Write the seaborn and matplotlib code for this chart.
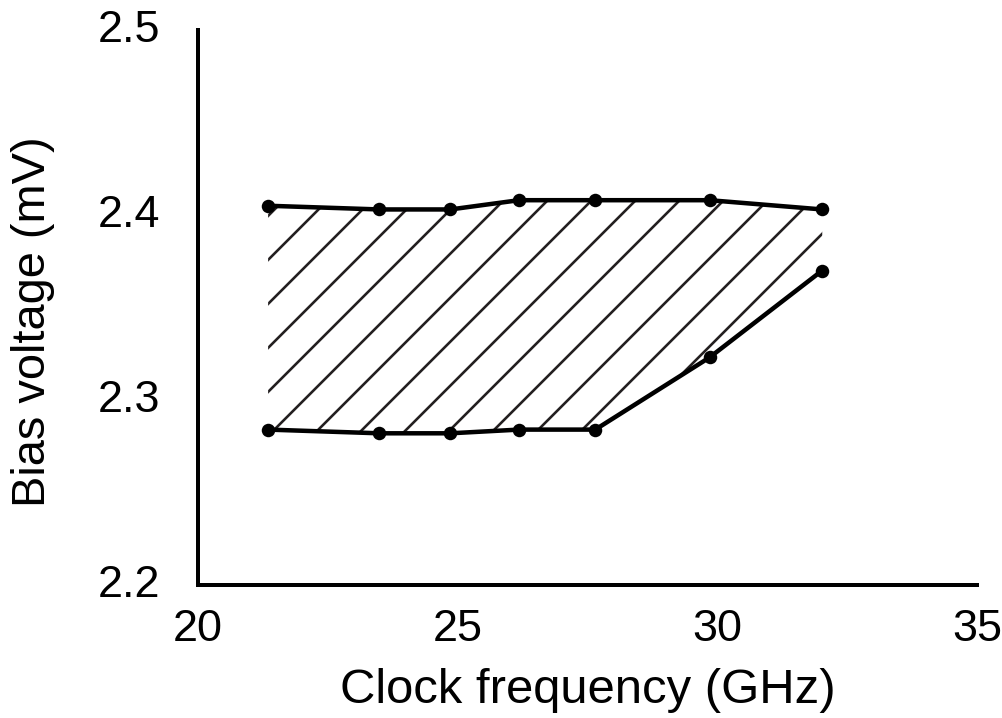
import matplotlib
matplotlib.use("Agg")
import matplotlib.pyplot as plt
import matplotlib.transforms as mtransforms
import seaborn as sns
import pandas as pd

freq = [21.35, 23.49, 24.86, 26.18, 27.65, 29.85, 32.02]
upper = [2.405, 2.403, 2.403, 2.408, 2.408, 2.408, 2.403]
lower = [2.284, 2.282, 2.282, 2.284, 2.284, 2.323, 2.370]
xticks = [20, 25, 30, 35]
yticks = [2.2, 2.3, 2.4, 2.5]

DPI = 264
def pt(px):
    return px * 72.0 / DPI

sns.set_theme(style="white")
plt.rcParams['font.family'] = ['Liberation Sans', 'DejaVu Sans']
plt.rcParams['hatch.linewidth'] = pt(2.6)
plt.rcParams['hatch.color'] = '#231f20'

fig = plt.figure(figsize=(1002 / DPI, 718 / DPI), dpi=DPI)
ax = fig.add_axes([198 / 1002, 1 - 585 / 718, (977 - 198) / 1002, (585 - 30) / 718])

df = pd.DataFrame({"freq": freq, "upper": upper, "lower": lower})

ax.fill_between(df["freq"], df["lower"], df["upper"], facecolor='none',
                edgecolor='#231f20', hatch='//', linewidth=0)
for col in ["upper", "lower"]:
    sns.lineplot(data=df, x="freq", y=col, ax=ax, color='black', linewidth=pt(4.5),
                 marker='o', markersize=pt(13.5), markeredgewidth=0,
                 markerfacecolor='black')

ax.set_xlim(20, 35)
ax.set_ylim(2.2, 2.5)
ax.set_xticks(xticks)
ax.set_xticklabels([str(t) for t in xticks])
ax.set_yticks(yticks)
ax.set_yticklabels([f"{t:.1f}" for t in yticks])
ax.tick_params(axis='both', length=0, labelsize=pt(45), colors='black')
ax.tick_params(axis='x', pad=pt(24))
ax.tick_params(axis='y', pad=pt(38))
off = mtransforms.ScaledTranslation(0, pt(4) / 72.0, fig.dpi_scale_trans)
for lab in ax.get_yticklabels():
    lab.set_transform(lab.get_transform() + off)
ax.set_xlabel("Clock frequency (GHz)", fontsize=pt(49), labelpad=pt(18), color='black')
ax.set_ylabel("Bias voltage (mV)", fontsize=pt(47), color='black')
ax.yaxis.set_label_coords(-0.184, 0.4748)
for s in ['top', 'right']:
    ax.spines[s].set_visible(False)
for s in ['left', 'bottom']:
    ax.spines[s].set_linewidth(pt(4))
    ax.spines[s].set_color('black')
ax.grid(False)

fig.savefig("out.png", dpi=DPI)
